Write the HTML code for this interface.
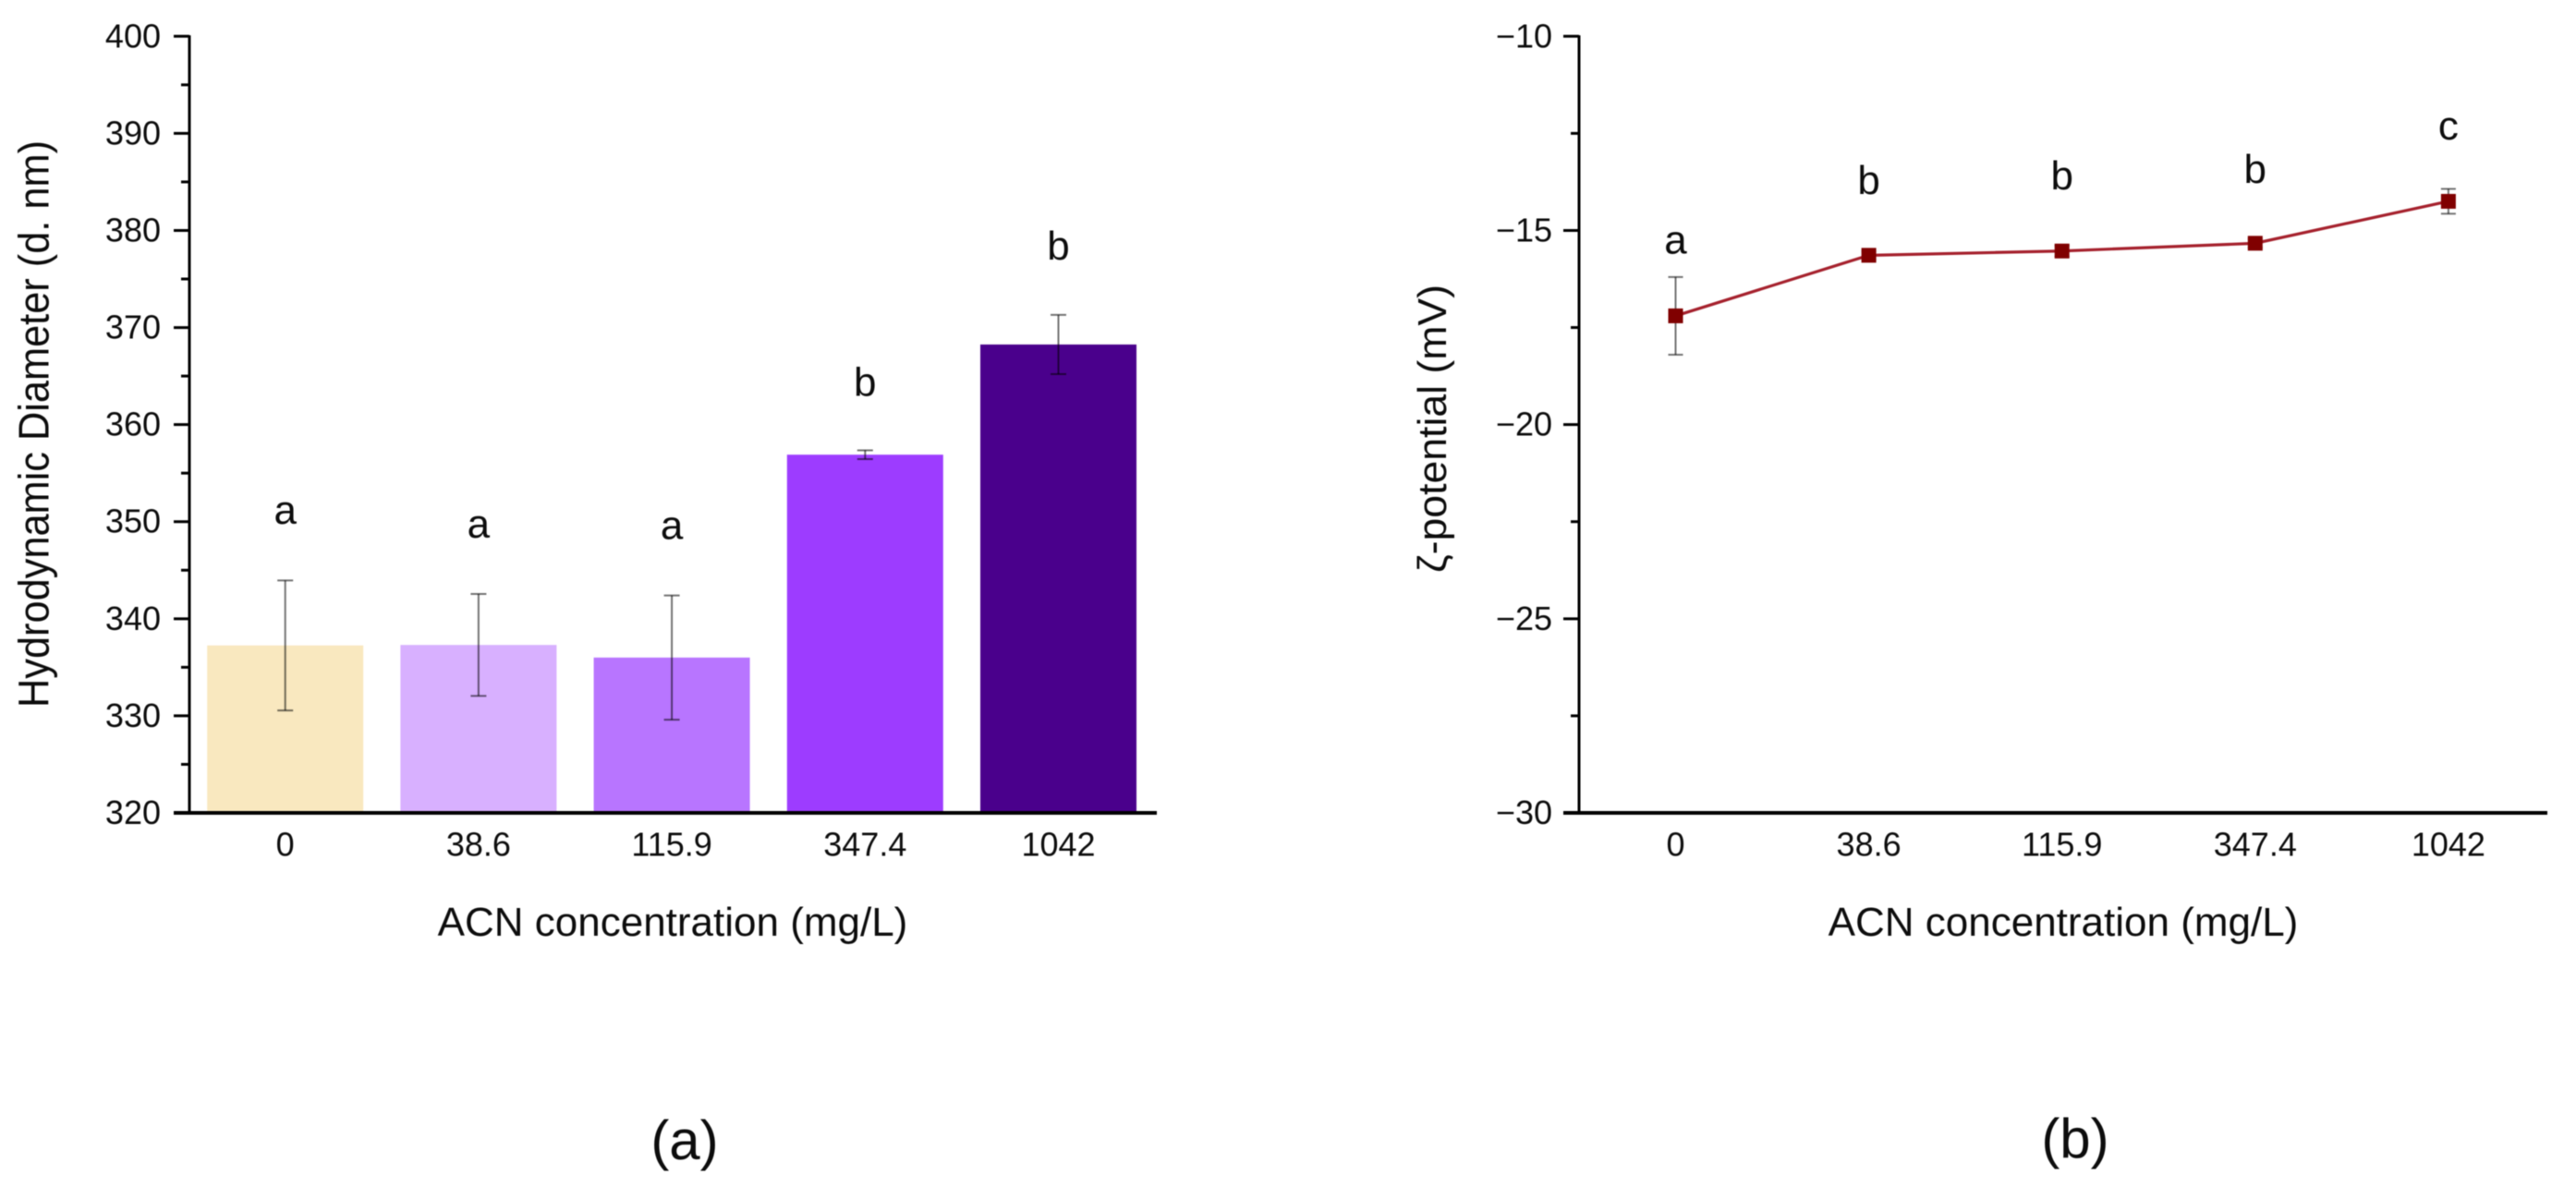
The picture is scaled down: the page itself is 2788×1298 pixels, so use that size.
<!DOCTYPE html>
<html lang="en">
<head>
<meta charset="utf-8">
<title>Hydrodynamic diameter and zeta potential vs ACN concentration</title>
<style>
html,body{margin:0;padding:0;background:#fff;}
body{width:2788px;height:1298px;overflow:hidden;}
svg{display:block;filter:blur(0.6px);}
text{font-family:"Liberation Sans","DejaVu Sans",sans-serif;fill:#0c0c0c;}
</style>
</head>
<body>
<svg id="figure" width="2788" height="1298" viewBox="0 0 2788 1298" xmlns="http://www.w3.org/2000/svg">
  <rect x="0" y="0" width="2788" height="1298" fill="#ffffff"/>
  <g id="panel-a"></g>
  <g id="panel-b"></g>
  <text transform="translate(52.5,766) rotate(-90)" font-size="46" textLength="614" lengthAdjust="spacingAndGlyphs">Hydrodynamic Diameter (d. nm)</text>
  <text transform="translate(1565,620) rotate(-90)" font-size="44" textLength="312" lengthAdjust="spacingAndGlyphs">ζ-potential (mV)</text>
  <text x="728" y="1013" font-size="44" text-anchor="middle">ACN concentration (mg/L)</text>
  <text x="2233" y="1013" font-size="44" text-anchor="middle">ACN concentration (mg/L)</text>
  <text x="741" y="1255" font-size="60" text-anchor="middle">(a)</text>
  <text x="2246" y="1253" font-size="60" text-anchor="middle">(b)</text>
</svg>
<script>
const categories = ['0', '38.6', '115.9', '347.4', '1042'];

const diameterValues = [337.25, 337.3, 336.0, 356.9, 368.25];
const diameterErrors = [6.7, 5.25, 6.4, 0.45, 3.05];
const diameterLetters = ['a', 'a', 'a', 'b', 'b'];
const diameterLetterLevels = [349.8, 348.35, 348.2, 362.95, 377.0];
const diameterColors = ['#f9e8bf', '#d8b0ff', '#b875ff', '#9d3cff', '#4a008c'];
const diameterTicks = [320, 330, 340, 350, 360, 370, 380, 390, 400];
const diameterMinorTicks = [325, 335, 345, 355, 365, 375, 385, 395];

const zetaValues = [-17.2, -15.64, -15.53, -15.33, -14.25];
const zetaErrors = [1.0, 0.1, 0.14, 0.11, 0.32];
const zetaLetters = ['a', 'b', 'b', 'b', 'c'];
const zetaLetterLevels = [-15.6, -14.06, -13.94, -13.78, -12.66];
const zetaTicks = [-30, -25, -20, -15, -10];
const zetaMinorTicks = [-27.5, -22.5, -17.5, -12.5];

const SVG_NS = 'http://www.w3.org/2000/svg';
const PLOT_TOP = 39.3;
const PLOT_BOTTOM = 880;

function makeAxisY(min, max) {
  return function (v) { return PLOT_BOTTOM - (v - min) / (max - min) * (PLOT_BOTTOM - PLOT_TOP); };
}
function makeAxisX(first, step) {
  return function (i) { return first + i * step; };
}
function shape(parent, tag, props) {
  const el = document.createElementNS(SVG_NS, tag);
  Object.keys(props).forEach(function (k) { el.setAttribute(k, props[k]); });
  parent.appendChild(el);
  return el;
}
function drawFrame(parent, axisX0, axisX1, labelRight, y, ticks, minorTicks, x, formatTick) {
  const yLine = shape(parent, 'line', { x1: axisX0, x2: axisX0, y1: PLOT_TOP - 1, y2: PLOT_BOTTOM, stroke: '#000', 'stroke-width': 3 });
  
  
  const xLine = shape(parent, 'line', { x1: axisX0 - 17, x2: axisX1, y1: PLOT_BOTTOM, y2: PLOT_BOTTOM, stroke: '#000', 'stroke-width': 4 });
  
  
  ticks.forEach(function (t) {
    const tick = shape(parent, 'line', { x1: axisX0 - 17, x2: axisX0, y1: y(t), y2: y(t), stroke: '#000', 'stroke-width': 3 });
    
    
    const label = shape(parent, 'text', { x: labelRight, y: y(t) + 12, 'font-size': 36, 'text-anchor': 'end' });
    label.textContent = formatTick(t);
    
    
  });
  minorTicks.forEach(function (t) {
    const tick = shape(parent, 'line', { x1: axisX0 - 9, x2: axisX0, y1: y(t), y2: y(t), stroke: '#000', 'stroke-width': 3 });
    
    
  });
  categories.forEach(function (c, i) {
    const label = shape(parent, 'text', { x: x(i), y: 926.5, 'font-size': 36, 'text-anchor': 'middle' });
    label.textContent = c;
    
    
  });
}
function drawError(parent, cx, yHigh, yLow, capHalf) {
  const stem = shape(parent, 'line', { x1: cx, x2: cx, y1: yHigh, y2: yLow, stroke: '#000', 'stroke-opacity': 0.55, 'stroke-width': 2 });
  
  
  const capTop = shape(parent, 'line', { x1: cx - capHalf, x2: cx + capHalf, y1: yHigh, y2: yHigh, stroke: '#000', 'stroke-opacity': 0.55, 'stroke-width': 2 });
  
  
  const capBottom = shape(parent, 'line', { x1: cx - capHalf, x2: cx + capHalf, y1: yLow, y2: yLow, stroke: '#000', 'stroke-opacity': 0.55, 'stroke-width': 2 });
  
  
}

/* Panel (a): bars */
const panelA = document.getElementById('panel-a');
const yA = makeAxisY(320, 400);
const xA = makeAxisX(308.7, 209.2);
const BAR_WIDTH = 169;
diameterValues.forEach(function (v, i) {
  const bar = shape(panelA, 'rect', { x: xA(i) - BAR_WIDTH / 2, y: yA(v), width: BAR_WIDTH, height: PLOT_BOTTOM - yA(v), fill: diameterColors[i] });
  
  
});
drawFrame(panelA, 205, 1252, 174, yA, diameterTicks, diameterMinorTicks, xA, function (t) { return String(t); });
diameterValues.forEach(function (v, i) {
  drawError(panelA, xA(i), yA(v + diameterErrors[i]), yA(v - diameterErrors[i]), 8.5);
  const letter = shape(panelA, 'text', { x: xA(i), y: yA(diameterLetterLevels[i]), 'font-size': 44, 'text-anchor': 'middle' });
  letter.textContent = diameterLetters[i];
  
  
});

/* Panel (b): line with markers */
const panelB = document.getElementById('panel-b');
const yB = makeAxisY(-30, -10);
const xB = makeAxisX(1813.5, 209.1);
drawFrame(panelB, 1709, 2757, 1680, yB, zetaTicks, zetaMinorTicks, xB, function (t) { return '\u2212' + Math.abs(t); });
const zetaLine = shape(panelB, 'polyline', {
  points: zetaValues.map(function (v, i) { return xB(i) + ',' + yB(v); }).join(' '),
  fill: 'none', stroke: '#a5202c', 'stroke-width': 3.2
});


zetaValues.forEach(function (v, i) {
  drawError(panelB, xB(i), yB(v + zetaErrors[i]), yB(v - zetaErrors[i]), 8);
  const marker = shape(panelB, 'rect', { x: xB(i) - 8, y: yB(v) - 8, width: 16, height: 16, fill: '#800000' });
  
  
  const letter = shape(panelB, 'text', { x: xB(i), y: yB(zetaLetterLevels[i]), 'font-size': 44, 'text-anchor': 'middle' });
  letter.textContent = zetaLetters[i];
  
  
});
</script>
</body>
</html>
